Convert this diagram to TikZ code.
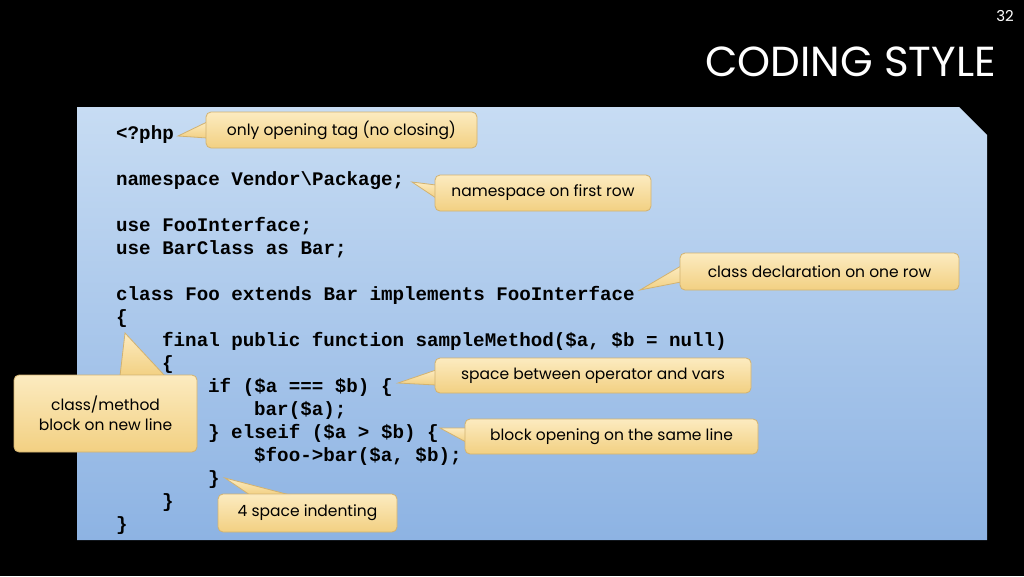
\documentclass[tikz,border=0pt]{standalone}
\usepackage{fontspec}
\setmainfont{Poppins}
\setmonofont{Liberation Mono}
\usepackage{tikz}

\definecolor{panelTop}{HTML}{C7DCF3}
\definecolor{panelBot}{HTML}{8DB3E3}
\definecolor{noteTop}{HTML}{FCEBC0}
\definecolor{noteBot}{HTML}{F2D082}
\definecolor{noteLine}{HTML}{D2B270}

\tikzset{
  code/.style={anchor=base west, inner sep=0pt, font=\fontsize{19.2}{23}\selectfont\ttfamily\bfseries},
  note/.style={top color=noteTop, bottom color=noteBot, draw=noteLine, line width=0.8pt},
  notetext/.style={font=\fontsize{15.5}{20}\selectfont, align=center, inner sep=0pt}
}
% callout: name, box corners, wedge base points, tip, text
\newcommand{\callout}[7]{%
  \coordinate (#1tip) at #6;
  \path[note, rounded corners=0pt] #4 -- (#1tip) -- #5 -- cycle;
  \path[note, rounded corners=5pt] #2 rectangle #3;
  \path[fill=noteTop!60!noteBot] #4 -- ($#4!0.5!#5$) -- #5;
  \node[notetext] (#1) at ($#2!0.5!#3$) {#7};
}
\usetikzlibrary{calc}

\begin{document}
\begin{tikzpicture}[x=1pt,y=-1pt]
  \fill[black] (0,0) rectangle (1024,576);
  \useasboundingbox (0,0) rectangle (1024,576);

  \node[text=white, font=\fontsize{15}{15}\selectfont] (page) at (1005,16) {32};
  \node[text=white, anchor=base east, inner sep=0pt, font=\fontsize{42}{42}\selectfont] (title) at (996,76) {CODING STYLE};

  % code panel with folded corner
  \path[top color=panelTop, bottom color=panelBot] (77,107) -- (959,107) -- (987,135) -- (987,540) -- (77,540) -- cycle;

  \node[code] (l1) at (116,139) {<?php};
  \node[code] (l2) at (116,185) {namespace Vendor\textbackslash Package;};
  \node[code] (l3) at (116,231) {use FooInterface;};
  \node[code] (l4) at (116,254) {use BarClass as Bar;};
  \node[code] (l5) at (116,300) {class Foo extends Bar implements FooInterface};
  \node[code] (l6) at (116,323) {\{};
  \node[code] (l7) at (162,346) {final public function sampleMethod(\$a, \$b = null)};
  \node[code] (l8) at (162,369) {\{};
  \node[code] (l9) at (208,392) {if (\$a === \$b) \{};
  \node[code] (l10) at (254,415) {bar(\$a);};
  \node[code] (l11) at (208,438) {\} elseif (\$a > \$b) \{};
  \node[code] (l12) at (254,461) {\$foo->bar(\$a, \$b);};
  \node[code] (l13) at (208,484) {\}};
  \node[code] (l14) at (162,507) {\}};
  \node[code] (l15) at (116,530) {\}};

  % callouts
  \callout{tag}{(206,112)}{(477,148)}{(207,122)}{(207,138)}{(178,136)}{only opening tag (no closing)}
  \callout{ns}{(435,175)}{(651,211)}{(436,185)}{(436,198)}{(412,182)}{namespace on first row}
  \callout{decl}{(680,253)}{(959,290)}{(681,266)}{(681,282)}{(640,290)}{class declaration on one row}
  \callout{ops}{(435,358)}{(751,393)}{(436,370)}{(436,385)}{(398,383)}{space between operator and vars}
  \callout{blk}{(465,419)}{(758,454)}{(466,428)}{(466,442)}{(440,428)}{block opening on the same line}
  \callout{ind}{(218,494)}{(397,532)}{(250,495)}{(290,495)}{(225,478)}{4 space indenting}
  \callout{cls}{(14,375)}{(197,452)}{(120,376)}{(165,376)}{(125,333)}{class/method\\block on new line}
\end{tikzpicture}
\end{document}
